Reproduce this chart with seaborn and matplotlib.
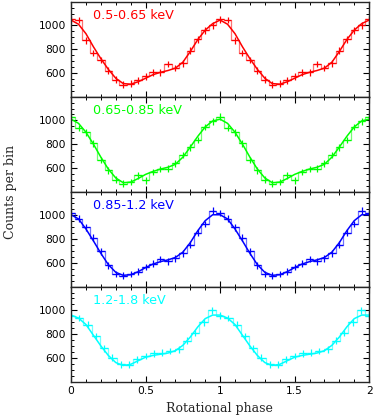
"""
Pulse profiles in four energy bands, folded twice over rotational phase
"""

import numpy as np
import pandas as pd
import matplotlib
matplotlib.use('Agg')
import matplotlib.pyplot as plt
import seaborn as sns
from matplotlib.ticker import MultipleLocator, FixedLocator

# energy bands and colours
bands = ['0.5-0.65 keV', '0.65-0.85 keV', '0.85-1.2 keV', '1.2-1.8 keV']
colors = ['#ff0000', '#00ff00', '#0000ff', '#00ffff']

# binned counts over one cycle (bin centres at k/nbins)
red_counts = [1050, 1045, 875, 767, 708, 620, 542, 500, 508, 536,
              570, 605, 605, 675, 640, 680, 786, 883, 958, 1000]
green_counts = [1030, 935, 898, 807, 665, 580, 500, 467, 481, 538,
                495, 566, 589, 594, 637, 708, 773, 835, 943, 991]
blue_counts = [1020, 971, 899, 812, 696, 580, 507, 493, 507, 527,
               565, 594, 632, 614, 638, 681, 754, 855, 928, 1040]
cyan_counts = [955, 935, 880, 785, 680, 600, 545, 543, 586, 614,
               637, 643, 657, 671, 745, 810, 900, 1000]
nbins = [20, 20, 20, 18]

# model curves over one cycle, phase 0, 0.05, ..., 0.95
red_model = [1045, 1010, 930, 820, 720, 630, 555, 510, 505, 525,
             555, 585, 605, 620, 640, 690, 780, 880, 960, 1015]
green_model = [1010, 975, 900, 800, 690, 590, 515, 475, 480, 510,
               545, 570, 590, 605, 630, 690, 775, 865, 945, 995]
blue_model = [1005, 970, 885, 785, 680, 585, 520, 495, 500, 525,
              560, 590, 610, 625, 645, 690, 770, 870, 955, 1005]
cyan_model = [960, 935, 880, 790, 700, 620, 560, 535, 545, 575,
              605, 620, 630, 640, 660, 705, 775, 860, 930, 960]

counts = [red_counts, green_counts, blue_counts, cyan_counts]
models = [red_model, green_model, blue_model, cyan_model]
count_err = 28


def two_cycles(vals):
    """repeat one folded cycle so it covers phase 0-2"""
    n = len(vals)
    phase = np.arange(2 * n + 1) / n
    return pd.DataFrame({'phase': phase, 'value': list(vals) * 2 + [vals[0]]})


sns.set_style('ticks')
plt.rcParams['font.family'] = ['DejaVu Sans']

fig, axes = plt.subplots(nrows=4, ncols=1, figsize=(3.74, 4.17), dpi=100, sharex=True)
fig.subplots_adjust(left=0.19, right=0.987, top=0.996, bottom=0.085, hspace=0)

for ax, band, col, data, model, n in zip(axes, bands, colors, counts, models, nbins):
    d = two_cycles(data)
    m = two_cycles(model)

    # histogram steps, error crosses and model
    sns.lineplot(x='phase', y='value', data=d, ax=ax, color=col, alpha=0.55,
                 lw=0.9, drawstyle='steps-mid', estimator=None)
    ax.errorbar(d['phase'], d['value'], xerr=0.5 / n, yerr=count_err, fmt='none',
                ecolor=col, elinewidth=0.9, capsize=0)
    sns.lineplot(x='phase', y='value', data=m, ax=ax, color=col, lw=1.1, estimator=None)

    ax.set_xlim(0, 2)
    ax.set_ylim(400, 1200)
    ax.yaxis.set_major_locator(FixedLocator([600, 800, 1000]))
    ax.yaxis.set_minor_locator(MultipleLocator(50))
    ax.xaxis.set_major_locator(MultipleLocator(0.5))
    ax.xaxis.set_minor_locator(MultipleLocator(0.1))
    ax.tick_params(which='both', direction='in', top=True, right=True,
                   labelsize=7.7, colors='black')
    ax.tick_params(which='major', length=4.5, width=0.8)
    ax.tick_params(which='minor', length=2.2, width=0.7)
    for s in ax.spines.values():
        s.set_linewidth(1.0)
    ax.set_xlabel('')
    ax.set_ylabel('')
    ax.text(0.074, 0.85, band, transform=ax.transAxes, color=col,
            fontsize=9.2, va='center', ha='left')

axes[-1].set_xticks([0, 0.5, 1, 1.5, 2])
axes[-1].set_xticklabels(['0', '0.5', '1', '1.5', '2'])

fig.text(0.588, 0.02, 'Rotational phase', ha='center', va='center',
         fontsize=9, family='DejaVu Serif')
fig.text(0.028, 0.54, 'Counts per bin', ha='center', va='center',
         rotation=90, fontsize=9, family='DejaVu Serif')

fig.savefig('out.png', dpi=100)
